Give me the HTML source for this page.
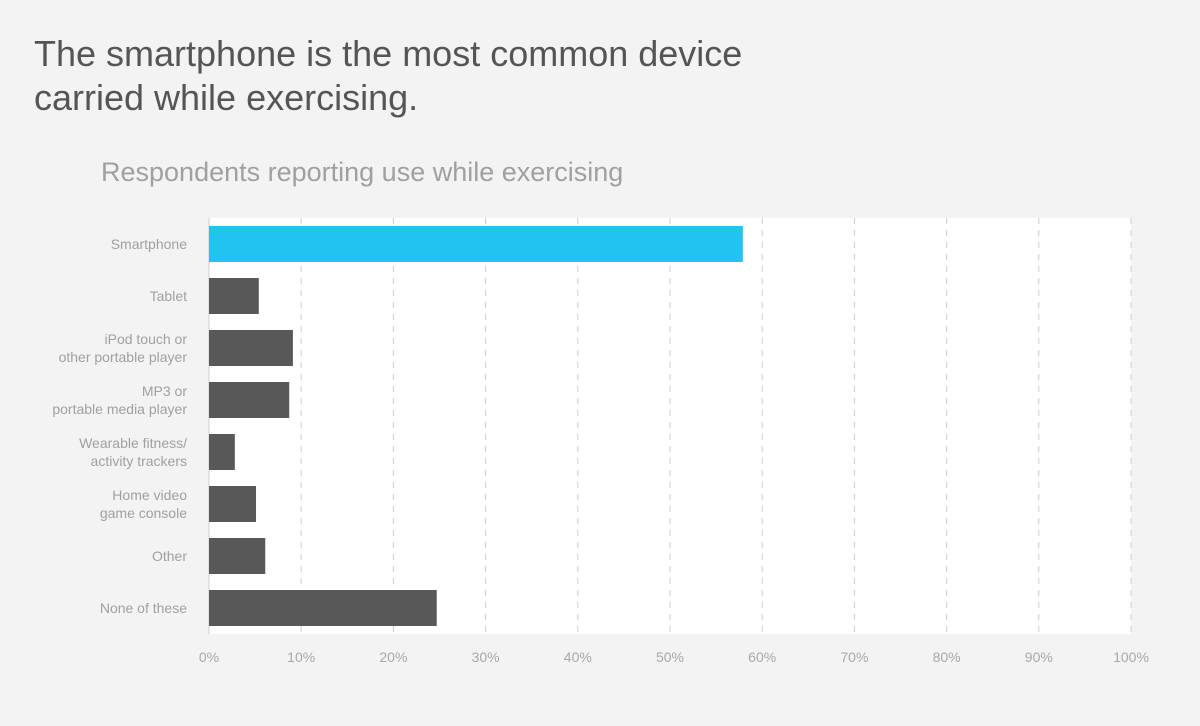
<!DOCTYPE html>
<html><head><meta charset="utf-8"><style>
body{margin:0;background:#f2f3f2;font-family:"Liberation Sans",sans-serif;}
#wrap{position:relative;width:1200px;height:726px;overflow:hidden;}
h1{position:absolute;left:34px;top:32px;margin:0;font-weight:normal;font-size:36px;line-height:44px;color:#555;}
h2{position:absolute;left:101px;top:157px;margin:0;font-weight:normal;font-size:27px;color:#a0a0a0;}
</style></head><body>
<div id="wrap">
<h1>The smartphone is the most common device<br>carried while exercising.</h1>
<h2>Respondents reporting use while exercising</h2>
<svg id="chart" width="1200" height="726" style="position:absolute;left:0;top:0"></svg>
</div>
<script>
const categories=[["Smartphone"],["Tablet"],["iPod touch or","other portable player"],["MP3 or","portable media player"],["Wearable fitness/","activity trackers"],["Home video","game console"],["Other"],["None of these"]];
const values=[57.9,5.4,9.1,8.7,2.8,5.1,6.1,24.7];
const ticks=[0,10,20,30,40,50,60,70,80,90,100];
const tickLabels=["0%","10%","20%","30%","40%","50%","60%","70%","80%","90%","100%"];
const NS="http://www.w3.org/2000/svg";
const svg=document.getElementById('chart');
const x0=209,x1=1131,yTop=218,yBot=634;
const band=(yBot-yTop)/categories.length;
const x=v=>x0+(x1-x0)*v/100;
const y=i=>yTop+band*i;
function mk(t,a){const e=document.createElementNS(NS,t);for(const k in a)e.setAttribute(k,a[k]);svg.appendChild(e);return e;}
let bg=mk('rect',{x:x0,y:yTop,width:x1-x0,height:yBot-yTop,fill:'#fff'});


ticks.forEach((t,i)=>{
  let l=mk('line',{x1:x(t),x2:x(t),y1:yTop,y2:yBot,stroke:'#ccc','stroke-width':1,'stroke-dasharray':i==0?'none':'6,6'});
  
  
  let tx=mk('text',{x:x(t),y:662,'text-anchor':'middle','font-size':14,fill:'#a8a8a8','font-family':'Liberation Sans, sans-serif'});
  tx.textContent=tickLabels[i];
  
  
});
values.forEach((v,i)=>{
  const cy=y(i)+band/2;
  let r=mk('rect',{x:x0,y:cy-18,width:x(v)-x0,height:36,fill:i==0?'#22c3ef':'#575857'});
  
  
  const lines=categories[i];
  lines.forEach((s,j)=>{
    let t=mk('text',{x:187,y:cy+5+(j-(lines.length-1)/2)*18,'text-anchor':'end','font-size':14,fill:'#a0a0a0','font-family':'Liberation Sans, sans-serif'});
    t.textContent=s;
    
    
  });
});
</script>
</body></html>
